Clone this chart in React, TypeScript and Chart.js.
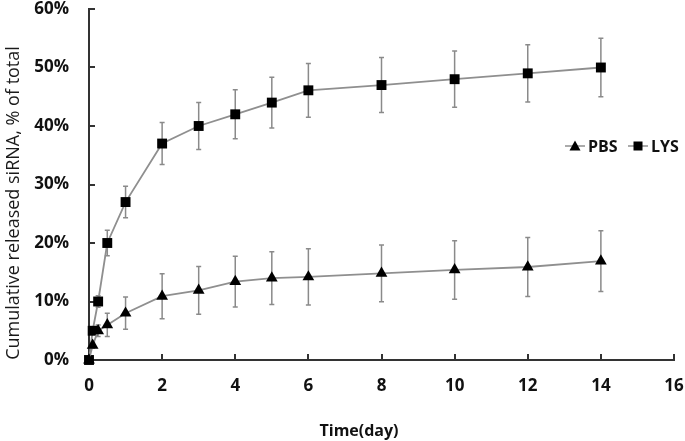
import React, { useEffect, useRef } from "react";
import { Chart, registerables } from "chart.js";

Chart.register(...registerables);

// ---- Data ----
const timeDays = [0, 0.1, 0.25, 0.5, 1, 2, 3, 4, 5, 6, 8, 10, 12, 14];
const pbsValues = [0, 2.5, 5, 6, 8, 10.9, 11.9, 13.4, 14, 14.2, 14.8, 15.4, 15.9, 16.9];
const pbsErrors = [0, 0.5, 1, 2, 2.75, 3.85, 4.1, 4.35, 4.5, 4.8, 4.85, 5, 5.05, 5.2];
const lysValues = [0, 5, 10, 20, 27, 37, 40, 42, 44, 46.1, 47, 48, 49, 50];
const lysErrors = [0, 0.5, 1, 2.2, 2.7, 3.6, 4.0, 4.2, 4.35, 4.6, 4.7, 4.8, 4.9, 5.0];
const seriesNames = ["PBS", "LYS"];
const xTickValues = [0, 2, 4, 6, 8, 10, 12, 14, 16];
const yTickValues = [0, 10, 20, 30, 40, 50, 60];
const xTitle = "Time(day)";
const yTitle = "Cumulative released siRNA, % of total";

const FONT = "'Open Sans', Lato, sans-serif";
const LINE_GRAY = "#8f8f8f";
const AXIS = "#333333";

const errorBarPlugin = {
  id: "errorBars",
  beforeDatasetsDraw(chart: any) {
    const { ctx } = chart;
    const x = chart.scales.x;
    const y = chart.scales.y;
    ctx.save();
    ctx.strokeStyle = "#8a8a8a";
    ctx.lineWidth = 1.5;
    chart.data.datasets.forEach((ds: any) => {
      const errs: number[] = ds.errors;
      if (!errs) return;
      ds.data.forEach((p: any, i: number) => {
        const e = errs[i];
        if (!e) return;
        const px = x.getPixelForValue(p.x);
        const top = y.getPixelForValue(p.y + e);
        const bot = y.getPixelForValue(p.y - e);
        ctx.beginPath();
        ctx.moveTo(px, top);
        ctx.lineTo(px, bot);
        ctx.moveTo(px - 2.5, top);
        ctx.lineTo(px + 2.5, top);
        ctx.moveTo(px - 2.5, bot);
        ctx.lineTo(px + 2.5, bot);
        ctx.stroke();
      });
    });
    ctx.restore();
  },
};

const insideTicksPlugin = {
  id: "insideTicks",
  beforeDatasetsDraw(chart: any) {
    const { ctx, chartArea } = chart;
    const x = chart.scales.x;
    const y = chart.scales.y;
    ctx.save();
    ctx.strokeStyle = AXIS;
    ctx.lineWidth = 2;
    ctx.beginPath();
    yTickValues.forEach((v) => {
      const py = Math.round(y.getPixelForValue(v));
      ctx.moveTo(chartArea.left, py);
      ctx.lineTo(chartArea.left + 6, py);
    });
    xTickValues.forEach((v) => {
      const px = Math.round(x.getPixelForValue(v));
      ctx.moveTo(px, chartArea.bottom);
      ctx.lineTo(px, chartArea.bottom - 6);
    });
    ctx.stroke();
    ctx.restore();
  },
};

// Axis titles placed where the reference has them (off-centre)
const axisTitlePlugin = {
  id: "axisTitles",
  afterDraw(chart: any) {
    const { ctx } = chart;
    ctx.save();
    ctx.fillStyle = "#111";
    ctx.textAlign = "center";
    ctx.textBaseline = "middle";
    ctx.font = `bold 16px ${FONT}`;
    ctx.fillText(xTitle, 359, 431);
    ctx.translate(14, 203);
    ctx.rotate(-Math.PI / 2);
    ctx.font = `normal 18px ${FONT}`;
    ctx.fillStyle = "#1a1a1a";
    ctx.fillText(yTitle, 0, 0);
    ctx.restore();
  },
};

const legendPlugin = {
  id: "customLegend",
  afterDraw(chart: any) {
    const { ctx } = chart;
    const cy = 146;
    ctx.save();
    ctx.font = `bold 16px ${FONT}`;
    ctx.textBaseline = "middle";
    ctx.textAlign = "left";
    let cx = 565;
    chart.data.datasets.forEach((ds: any) => {
      ctx.strokeStyle = LINE_GRAY;
      ctx.lineWidth = 1.5;
      ctx.beginPath();
      ctx.moveTo(cx, cy);
      ctx.lineTo(cx + 20, cy);
      ctx.stroke();
      ctx.fillStyle = "#000";
      const mx = cx + 10;
      if (ds.pointStyle === "triangle") {
        ctx.beginPath();
        ctx.moveTo(mx, cy - 5.5);
        ctx.lineTo(mx + 5.5, cy + 4.5);
        ctx.lineTo(mx - 5.5, cy + 4.5);
        ctx.closePath();
        ctx.fill();
      } else {
        ctx.fillRect(mx - 4.5, cy - 4.5, 9, 9);
      }
      ctx.fillStyle = "#111";
      ctx.fillText(ds.label, cx + 23, cy + 1);
      cx += 63;
    });
    ctx.restore();
  },
};

const zeroScalePadding = (s: any) => {
  s.paddingTop = 0;
  s.paddingBottom = 0;
  s.paddingLeft = 0;
  s.paddingRight = 0;
};

export default function App() {
  const canvasRef = useRef<HTMLCanvasElement | null>(null);

  useEffect(() => {
    if (!canvasRef.current) return;
    const chart = new Chart(canvasRef.current, {
      type: "line",
      data: {
        datasets: [
          {
            label: seriesNames[0],
            data: timeDays.map((t, i) => ({ x: t, y: pbsValues[i] })),
            errors: pbsErrors,
            borderColor: LINE_GRAY,
            borderWidth: 1.8,
            pointStyle: "triangle",
            pointRadius: 6.8,
            pointBackgroundColor: "#000",
            pointBorderColor: "#000",
            pointBorderWidth: 0,
            clip: false,
            tension: 0,
          } as any,
          {
            label: seriesNames[1],
            data: timeDays.map((t, i) => ({ x: t, y: lysValues[i] })),
            errors: lysErrors,
            borderColor: LINE_GRAY,
            borderWidth: 1.8,
            pointStyle: "rect",
            pointRadius: 7,
            pointBackgroundColor: "#000",
            pointBorderColor: "#000",
            pointBorderWidth: 0,
            clip: false,
            tension: 0,
          } as any,
        ],
      },
      options: {
        responsive: false,
        animation: false,
        layout: { padding: { top: 9, right: 11, left: 0, bottom: 0 } },
        plugins: {
          legend: { display: false },
          tooltip: { enabled: false },
        },
        scales: {
          x: {
            type: "linear",
            min: 0,
            max: 16,
            afterFit: (s: any) => {
              s.height = 81;
              zeroScalePadding(s);
            },
            afterBuildTicks: (s: any) => {
              s.ticks = xTickValues.map((v) => ({ value: v }));
            },
            grid: { display: true, drawOnChartArea: false, drawTicks: false },
            border: { display: true, color: AXIS, width: 2 },
            ticks: {
              padding: 16,
              color: "#111",
              font: { family: FONT, size: 17, weight: "bold" },
              maxRotation: 0,
            },
            title: { display: false, text: xTitle },
          },
          y: {
            type: "linear",
            min: 0,
            max: 60,
            afterFit: (s: any) => {
              s.width = 89;
              zeroScalePadding(s);
            },
            afterBuildTicks: (s: any) => {
              s.ticks = yTickValues.map((v) => ({ value: v }));
            },
            grid: { display: true, drawOnChartArea: false, drawTicks: false },
            border: { display: true, color: AXIS, width: 2 },
            ticks: {
              padding: 20,
              color: "#111",
              font: { family: FONT, size: 17, weight: "bold" },
              callback: (v: any) => `${v}%`,
            },
            title: { display: false, text: yTitle },
          },
        },
      } as any,
      plugins: [insideTicksPlugin, errorBarPlugin, legendPlugin, axisTitlePlugin],
    });
    return () => chart.destroy();
  }, []);

  return (
    <div style={{ position: "fixed", left: 0, top: 0, width: 685, height: 441, background: "#fff" }}>
      <canvas ref={canvasRef} width={685} height={441} style={{ width: 685, height: 441 }} />
    </div>
  );
}
